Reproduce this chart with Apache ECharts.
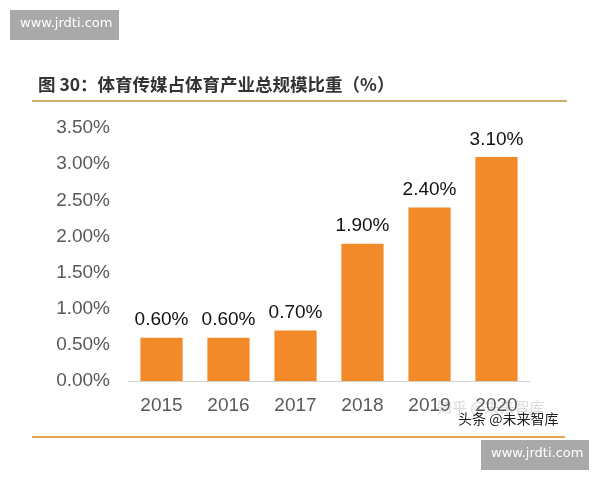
<!DOCTYPE html>
<html>
<head>
<meta charset="utf-8">
<script src="https://cdn.jsdelivr.net/npm/echarts@6/dist/echarts.min.js"></script>
<style>
  html, body { margin: 0; padding: 0; background: #fff; }
  #chart { width: 600px; height: 480px; }
</style>
</head>
<body>
<div id="chart"></div>
<script>
const years = ["2015", "2016", "2017", "2018", "2019", "2020"];
const shares = [0.6, 0.6, 0.7, 1.9, 2.4, 3.1];
const titleText = "图 30：体育传媒占体育产业总规模比重（%）";

const chart = echarts.init(document.getElementById("chart"));
chart.setOption({
  animation: false,
  grid: { left: 128, right: 70, top: 128, bottom: 99 },
  xAxis: {
    type: "category",
    data: years,
    axisLine: { lineStyle: { color: "#d0d0d0", width: 1 } },
    axisTick: { show: false },
    axisLabel: { color: "#595959", fontSize: 19, fontFamily: "Liberation Sans", margin: 15 }
  },
  yAxis: {
    type: "value",
    min: 0,
    max: 3.5,
    interval: 0.5,
    splitLine: { show: false },
    axisLine: { show: false },
    axisTick: { show: false },
    axisLabel: {
      color: "#595959",
      fontSize: 19,
      fontFamily: "Liberation Sans",
      margin: 18,
      formatter: v => v.toFixed(2) + "%"
    }
  },
  series: [{
    type: "bar",
    data: shares,
    barWidth: "63%",
    itemStyle: { color: "#F38A2A" },
    label: {
      show: true,
      position: "top",
      distance: 8,
      color: "#111",
      fontSize: 19,
      fontFamily: "Liberation Sans",
      formatter: p => p.value.toFixed(2) + "%"
    }
  }],
  graphic: [
    { type: "rect", shape: { x: 10, y: 10, width: 109, height: 30 }, style: { fill: "#a9a9a9" } },
    { type: "text", left: 20, top: 17, style: { text: "www.jrdti.com", fill: "#fff", fontSize: 13, fontFamily: "DejaVu Sans" } },
    { type: "text", left: 38, top: 76, style: { text: titleText, fill: "#333", fontSize: 17.5, fontWeight: "bold", fontFamily: "Noto Sans CJK SC" } },
    { type: "rect", shape: { x: 32, y: 100, width: 535, height: 2 }, style: { fill: "#c9ad72" } },
    { type: "rect", shape: { x: 32, y: 436, width: 533, height: 2 }, style: { fill: "#e2a650" } },
    { type: "text", left: 437, top: 400, style: { text: "知乎 @未来智库", fill: "rgba(190,190,190,0.55)", fontSize: 15, fontFamily: "Noto Sans CJK SC" } },
    { type: "text", left: 458, top: 412, style: { text: "头条 @未来智库", fill: "#222", fontSize: 14, fontFamily: "Noto Sans CJK SC" } },
    { type: "rect", shape: { x: 481, y: 440, width: 108, height: 30 }, style: { fill: "#a9a9a9" } },
    { type: "text", left: 491, top: 447, style: { text: "www.jrdti.com", fill: "#fff", fontSize: 13, fontFamily: "DejaVu Sans" } }
  ]
});
</script>
</body>
</html>
